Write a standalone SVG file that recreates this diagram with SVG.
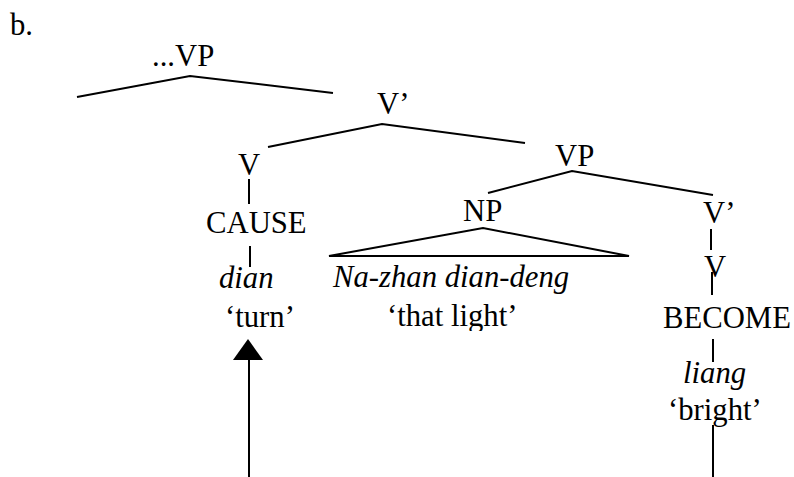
<svg xmlns="http://www.w3.org/2000/svg" width="794" height="477" viewBox="0 0 794 477">
  <style>
    text { font-size: 30.7px; fill: #000; }
    .it { font-style: italic; }
    .edge { stroke: #000; stroke-width: 2; fill: none; }
  </style>
  <defs>
    <clipPath id="glossClip">
      <rect x="300" y="290" width="300" height="41"/>
    </clipPath>
  </defs>
  <rect width="794" height="477" fill="#fff"/>

  <g font-family="'Liberation Serif', 'Times New Roman', Times, serif">
  <g id="label-b"><text x="10" y="35">b.</text></g>

  <!-- tree nodes -->
  <g id="vp-top"><text x="152" y="66">...VP</text></g>
  <g id="vbar-top"><text x="377" y="114">V’</text></g>
  <g id="v-cause"><text x="238" y="175">V</text></g>
  <g id="cause"><text x="206" y="233">CAUSE</text></g>
  <g id="dian"><text class="it" x="219" y="288">dian</text><text x="225" y="327">‘turn’</text></g>
  <g id="vp-low"><text x="555" y="166">VP</text></g>
  <g id="np"><text x="463" y="221">NP</text></g>
  <g id="np-words">
    <text class="it" x="333" y="287">Na-zhan dian-deng</text>
    <text x="387" y="326" clip-path="url(#glossClip)">‘that light’</text>
  </g>
  <g id="vbar-low"><text x="703" y="223">V’</text></g>
  <g id="v-become"><text x="704" y="277">V</text></g>
  <g id="become"><text x="663" y="328">BECOME</text></g>
  <g id="liang"><text class="it" x="683" y="383">liang</text><text x="668" y="420">‘bright’</text></g>
  </g>

  <!-- branches and arrow -->
  <g id="connectors">
    <polyline class="edge" points="77,97 190,76 333,93"/>
    <polyline class="edge" points="268,147 382,124 525,143"/>
    <line class="edge" x1="249" y1="179" x2="249" y2="204"/>
    <line class="edge" x1="250" y1="246" x2="250" y2="267"/>
    <polyline class="edge" points="488,193 572,171 713,195"/>
    <polygon class="edge" points="329,256 483,228 629,256"/>
    <line class="edge" x1="711" y1="229" x2="711" y2="250"/>
    <line class="edge" x1="712" y1="272" x2="712" y2="295"/>
    <line class="edge" x1="713" y1="339" x2="713" y2="362"/>
    <line class="edge" x1="713" y1="425" x2="713" y2="477"/>
    <line class="edge" x1="249" y1="358" x2="249" y2="477"/>
    <polygon points="248,339 233,360 263,360" fill="#000"/>
  </g>
</svg>
